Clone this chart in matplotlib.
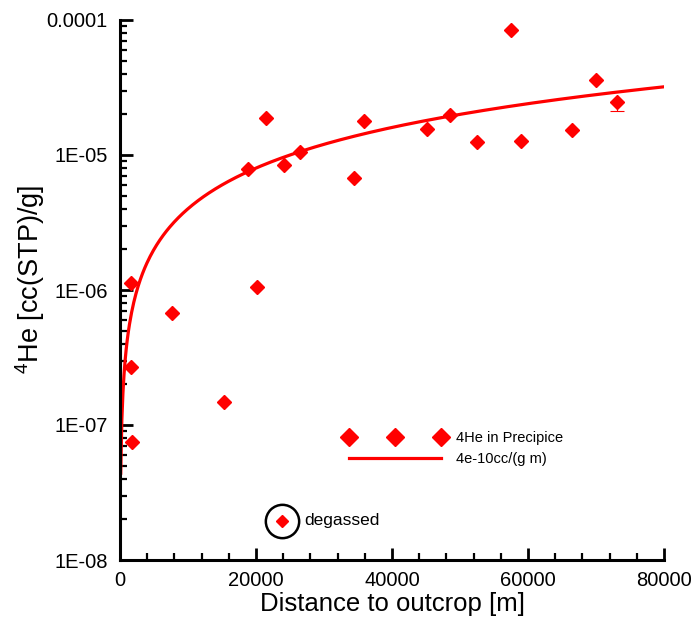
import numpy as np
import matplotlib
matplotlib.use("Agg")
import matplotlib.pyplot as plt
from matplotlib.ticker import FixedLocator, FixedFormatter, MultipleLocator, LogLocator, NullFormatter

plt.rcParams["font.family"] = ["Liberation Sans", "DejaVu Sans"]
plt.rcParams["mathtext.fontset"] = "custom"
plt.rcParams["mathtext.rm"] = "Liberation Sans"

# 4He measurements along the Precipice (distance in m, concentration in cc(STP)/g)
distance = [1570, 1660, 1810, 7650, 15340, 20100, 18820, 21470, 24120, 26470,
            34410, 35880, 45150, 48530, 52500, 57500, 58970, 66470, 70000, 73090]
he4 = [1.13e-6, 2.70e-7, 7.45e-8, 6.79e-7, 1.49e-7, 1.05e-6, 7.87e-6, 1.88e-5, 8.43e-6, 1.05e-5,
       6.76e-6, 1.79e-5, 1.56e-5, 1.98e-5, 1.25e-5, 8.43e-5, 1.27e-5, 1.53e-5, 3.60e-5, 2.47e-5]

# one sample with a lower error estimate
err_x = [73090]
err_y = [2.47e-5]
err_low = [0.34e-5]

# degassed sample
degassed_x = [23870]
degassed_y = [1.95e-8]

# accumulation rate of the fitted line, cc/(g m)
rate = 4e-10
line_x = np.linspace(110, 80000, 500)

ytick_vals = [1e-8, 1e-7, 1e-6, 1e-5, 1e-4]
ytick_labels = ["1E-08", "1E-07", "1E-06", "1E-05", "0.0001"]
xtick_vals = [0, 20000, 40000, 60000, 80000]

red = "#ff0000"

fig = plt.figure(figsize=(6.91, 6.27), dpi=100)
ax = fig.add_axes([120 / 691, 1 - 560 / 627, 544 / 691, 540 / 627])

ax.plot(line_x, rate * line_x, color=red, lw=2.3, label="4e-10cc/(g m)", zorder=2)
ax.errorbar(err_x, err_y, yerr=[err_low, [0]], fmt="none", ecolor=red,
            elinewidth=0.8, capsize=5, capthick=0.8, zorder=2)
pts, = ax.plot(distance, he4, ls="none", marker="D", ms=7, color=red,
               mec=red, label="4He in Precipice", zorder=3)

ax.plot(degassed_x, degassed_y, ls="none", marker="D", ms=6, color=red, zorder=3)
ax.plot(degassed_x, degassed_y, ls="none", marker="o", ms=24, mfc="none",
        mec="black", mew=1.8, zorder=3)
ax.text(27100, degassed_y[0], "degassed", fontsize=12.5, va="center", ha="left")

ax.set_yscale("log")
ax.set_xlim(0, 80000)
ax.set_ylim(1e-8, 1e-4)

ax.yaxis.set_major_locator(FixedLocator(ytick_vals))
ax.yaxis.set_major_formatter(FixedFormatter(ytick_labels))
ax.yaxis.set_minor_locator(LogLocator(base=10, subs=np.arange(2, 10)))
ax.yaxis.set_minor_formatter(NullFormatter())
ax.xaxis.set_major_locator(FixedLocator(xtick_vals))
ax.xaxis.set_minor_locator(MultipleLocator(4000))

for side in ["top", "right"]:
    ax.spines[side].set_visible(False)
for side in ["left", "bottom"]:
    ax.spines[side].set_linewidth(2.2)

ax.tick_params(which="major", direction="in", length=9, width=2, labelsize=14.5, pad=9)
ax.tick_params(which="minor", direction="in", length=5, width=1.6)
ax.tick_params(axis="x", which="major", pad=8)

ax.set_xlabel("Distance to outcrop [m]", fontsize=18.5)
ax.set_ylabel(r"$^{4}$He [cc(STP)/g]", fontsize=19.5)
ax.yaxis.set_label_coords(-0.135, 0.52)
ax.xaxis.set_label_coords(0.5, -0.06)

handles, labels = ax.get_legend_handles_labels()
order = [labels.index("4He in Precipice"), labels.index("4e-10cc/(g m)")]
ax.legend([handles[i] for i in order], [labels[i] for i in order],
          loc="center left", bbox_to_anchor=(0.4136, 0.2065), frameon=False,
          fontsize=10.5, numpoints=3, markerscale=1.3, handlelength=6.85,
          handletextpad=0.75, labelspacing=0.45, borderpad=0, borderaxespad=0)

fig.savefig("out.png", dpi=100)
